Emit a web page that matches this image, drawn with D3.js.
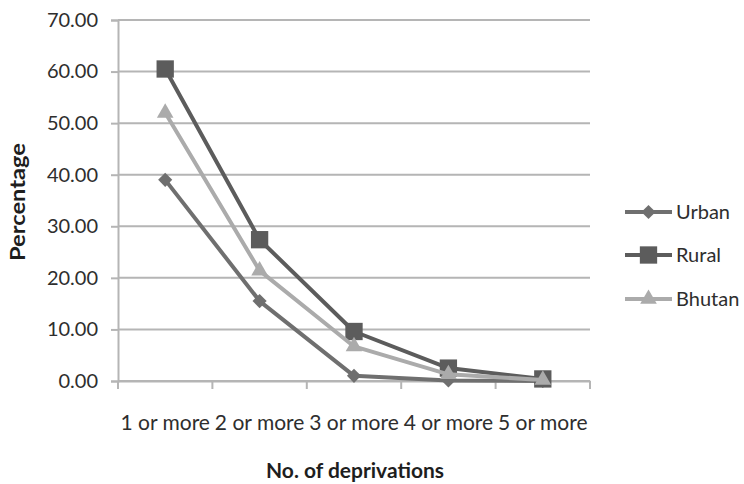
<!DOCTYPE html>
<html>
<head>
<meta charset="utf-8">
<script src="https://cdn.jsdelivr.net/npm/d3@7"></script>
<style>
  html, body { margin: 0; padding: 0; background: #fff; }
  svg { display: block; font-family: Lato, "Open Sans", sans-serif; }
</style>
</head>
<body>
<svg id="chart" width="744" height="484"></svg>
<script>
// Share of population by number of deprivations
const categories = ["1 or more", "2 or more", "3 or more", "4 or more", "5 or more"];
const urban  = [39.0, 15.5, 1.0, 0.1, 0.0];
const rural  = [60.5, 27.4, 9.6, 2.5, 0.4];
const bhutan = [52.0, 21.4, 6.7, 1.3, 0.2];
const yTicks = [0, 10, 20, 30, 40, 50, 60, 70];

const series = [
  { name: "Urban",  values: urban,  color: "#6f6f6f", shape: "diamond" },
  { name: "Rural",  values: rural,  color: "#5c5c5c", shape: "square" },
  { name: "Bhutan", values: bhutan, color: "#ababab", shape: "triangle" }
];

const svg = d3.select("#chart");
const plot = { left: 118, right: 590, top: 20, bottom: 381 };

const x = d3.scaleBand().domain(categories).range([plot.left, plot.right]).padding(0);
const y = d3.scaleLinear().domain([0, 70]).range([plot.bottom, plot.top]);
const gridColor = "#b5b5b5";
const textColor = "#2e2e2e";

// horizontal gridlines
svg.append("g").selectAll("line").data(yTicks).join("line")
  .attr("x1", plot.left).attr("x2", plot.right)
  .attr("y1", d => y(d)).attr("y2", d => y(d))
  .attr("stroke", gridColor).attr("stroke-width", 2);

// y axis
const yAxis = svg.append("g")
  .attr("transform", `translate(${plot.left},0)`)
  .call(d3.axisLeft(y).tickValues(yTicks).tickFormat(d3.format(".2f")).tickSize(7).tickPadding(13));
yAxis.select(".domain").attr("stroke", gridColor).attr("stroke-width", 2);
yAxis.selectAll(".tick line").attr("stroke", gridColor).attr("stroke-width", 2);
yAxis.selectAll(".tick text").attr("fill", textColor).style("font-size", "20px")
  .style("font-family", "Lato, sans-serif");

// x axis with ticks at category boundaries
const xAxis = svg.append("g")
  .attr("transform", `translate(0,${plot.bottom})`)
  .call(d3.axisBottom(x).tickSize(0));
xAxis.select(".domain").attr("stroke", gridColor).attr("stroke-width", 2);
xAxis.selectAll(".tick text").attr("fill", textColor).style("font-size", "21px")
  .style("font-family", "Lato, sans-serif")
  .attr("y", 49).attr("dy", 0);
const bounds = categories.map(c => x(c)).concat([x(categories[categories.length - 1]) + x.bandwidth()]);
xAxis.append("g").selectAll("line").data(bounds).join("line")
  .attr("x1", d => d).attr("x2", d => d).attr("y1", 0).attr("y2", 8)
  .attr("stroke", gridColor).attr("stroke-width", 2);

const cx = c => x(c) + x.bandwidth() / 2;

function markerPath(shape) {
  if (shape === "square") return d3.symbol(d3.symbolSquare, 300)();
  if (shape === "triangle") return d3.symbol(d3.symbolTriangle, 120)();
  return d3.symbol(d3.symbolSquare, 100)();
}
function markerRotate(shape) { return shape === "diamond" ? 45 : 0; }

const line = d3.line().x((d, i) => cx(categories[i])).y(d => y(d));

// draw series: Urban, Rural, Bhutan (Bhutan on top)
series.forEach(s => {
  const g = svg.append("g");
  g.append("path").datum(s.values)
    .attr("d", line).attr("fill", "none")
    .attr("stroke", s.color).attr("stroke-width", 4).attr("stroke-linejoin", "round");
  g.selectAll("path.m").data(s.values).join("path").attr("class", "m")
    .attr("d", markerPath(s.shape))
    .attr("transform", (d, i) => `translate(${cx(categories[i])},${y(d)}) rotate(${markerRotate(s.shape)})`)
    .attr("fill", s.color);
});

// legend
const legend = svg.append("g");
const legendY = [212, 255, 299];
series.forEach((s, i) => {
  const g = legend.append("g").attr("transform", `translate(625,${legendY[i]})`);
  g.append("line").attr("x1", 0).attr("x2", 47).attr("y1", 0).attr("y2", 0)
    .attr("stroke", s.color).attr("stroke-width", 4);
  g.append("path").attr("d", markerPath(s.shape))
    .attr("transform", `translate(23.5,0) rotate(${markerRotate(s.shape)})`)
    .attr("fill", s.color);
  g.append("text").attr("x", 51).attr("y", 0).attr("dy", "0.36em")
    .attr("fill", textColor).style("font-size", "20px").text(s.name);
});

// axis titles
svg.append("text")
  .attr("transform", `translate(25,202) rotate(-90)`)
  .attr("text-anchor", "middle").attr("fill", "#1e1e1e")
  .attr("textLength", 118).attr("lengthAdjust", "spacingAndGlyphs")
  .style("font-size", "20px").style("font-weight", "bold")
  .text("Percentage");
svg.append("text")
  .attr("x", 355).attr("y", 478)
  .attr("text-anchor", "middle").attr("fill", "#1e1e1e")
  .attr("textLength", 178).attr("lengthAdjust", "spacingAndGlyphs")
  .style("font-size", "20px").style("font-weight", "bold")
  .text("No. of deprivations");
</script>
</body>
</html>
